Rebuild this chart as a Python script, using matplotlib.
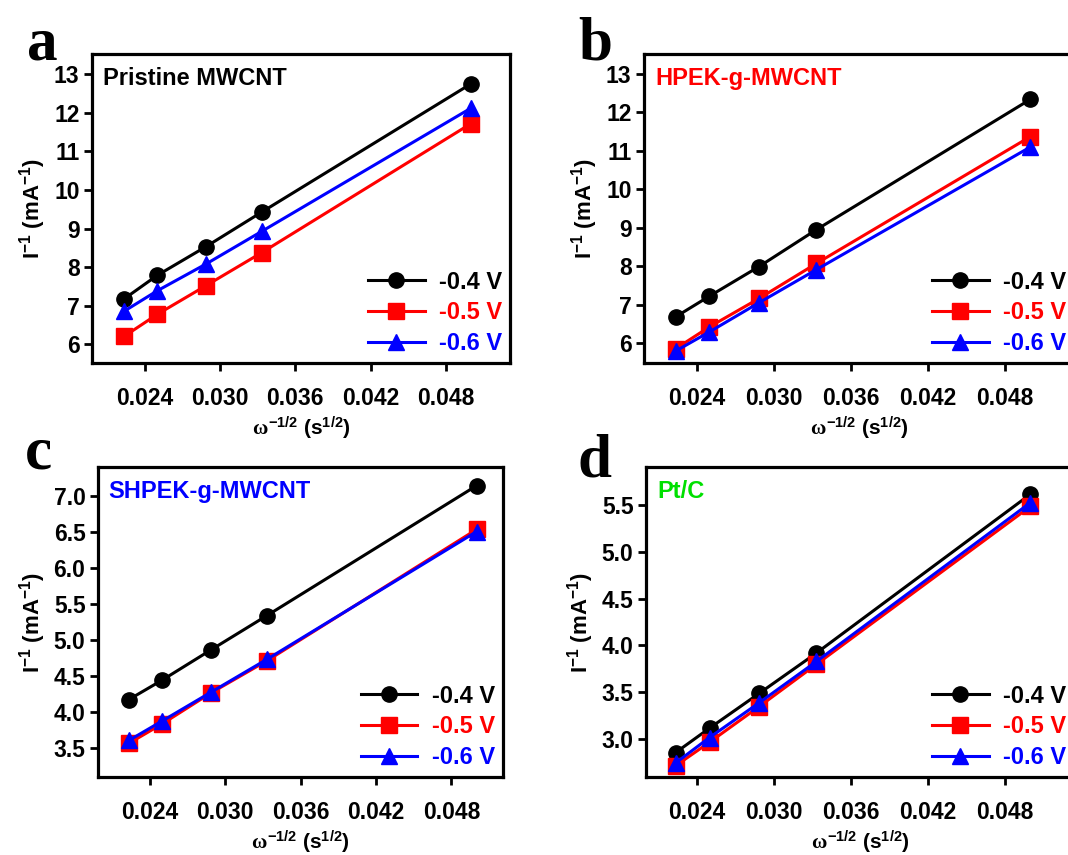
import numpy as np
import matplotlib
matplotlib.use("Agg")
import matplotlib.pyplot as plt

plt.rcParams["font.family"] = ["Liberation Sans", "DejaVu Sans"]
plt.rcParams["font.weight"] = "bold"
plt.rcParams["mathtext.fontset"] = "custom"
plt.rcParams["mathtext.it"] = "Liberation Serif"
plt.rcParams["mathtext.rm"] = "Liberation Sans:bold"
plt.rcParams["mathtext.bf"] = "Liberation Sans:bold"

# rotation rates (rpm) -> omega^-1/2
rpm = np.array([2000, 1600, 1200, 900, 400])
x_vals = 1.0 / np.sqrt(rpm)

volt_labels = ["-0.4 V", "-0.5 V", "-0.6 V"]

pristine_04 = [7.18, 7.79, 8.53, 9.43, 12.75]
pristine_05 = [6.21, 6.78, 7.52, 8.38, 11.72]
pristine_06 = [6.86, 7.39, 8.08, 8.93, 12.12]

hpek_04 = [6.68, 7.22, 7.99, 8.95, 12.34]
hpek_05 = [5.85, 6.42, 7.16, 8.07, 11.37]
hpek_06 = [5.79, 6.29, 7.05, 7.91, 11.10]

shpek_04 = [4.17, 4.44, 4.86, 5.34, 7.15]
shpek_05 = [3.56, 3.83, 4.26, 4.71, 6.54]
shpek_06 = [3.60, 3.87, 4.27, 4.73, 6.51]

ptc_04 = [2.86, 3.12, 3.49, 3.92, 5.61]
ptc_05 = [2.72, 2.97, 3.35, 3.80, 5.48]
ptc_06 = [2.75, 3.02, 3.39, 3.83, 5.52]

panels = [
    dict(letter="a", name="Pristine MWCNT", color="black",
         series=[pristine_04, pristine_05, pristine_06],
         rect=(92, 54, 418, 309), xlim=(0.0198, 0.0531), ylim=(5.52, 13.52),
         yticks=np.arange(6, 14, 1), yfmt="%d", letter_xy=(27, 60)),
    dict(letter="b", name="HPEK-g-MWCNT", color="#ff0000",
         series=[hpek_04, hpek_05, hpek_06],
         rect=(644, 54, 430, 309), xlim=(0.0199, 0.0534), ylim=(5.48, 13.52),
         yticks=np.arange(6, 14, 1), yfmt="%d", letter_xy=(578, 60)),
    dict(letter="c", name="SHPEK-g-MWCNT", color="#0000ff",
         series=[shpek_04, shpek_05, shpek_06],
         rect=(98, 467, 405, 310), xlim=(0.0199, 0.0521), ylim=(3.09, 7.41),
         yticks=np.arange(3.5, 7.01, 0.5), yfmt="%.1f", letter_xy=(25, 468)),
    dict(letter="d", name="Pt/C", color="#00e000",
         series=[ptc_04, ptc_05, ptc_06],
         rect=(646, 467, 428, 310), xlim=(0.02005, 0.0534), ylim=(2.60, 5.90),
         yticks=np.arange(3.0, 5.51, 0.5), yfmt="%.1f", letter_xy=(578, 476)),
]

line_colors = ["black", "#ff0000", "#0000ff"]
markers = ["o", "s", "^"]

W, H = 1068, 855
fig = plt.figure(figsize=(W / 100, H / 100), dpi=100)

for p in panels:
    l, t, w, h = p["rect"]
    ax = fig.add_axes([l / W, 1 - (t + h) / H, w / W, h / H])
    for ys, c, m, lab in zip(p["series"], line_colors, markers, volt_labels):
        ax.plot(x_vals, ys, color=c, marker=m, markersize=11, linewidth=2.2, label=lab)
    ax.set_xlim(*p["xlim"])
    ax.set_ylim(*p["ylim"])
    ax.set_xticks([0.024, 0.030, 0.036, 0.042, 0.048])
    ax.set_xticklabels(["0.024", "0.030", "0.036", "0.042", "0.048"])
    ax.set_yticks(p["yticks"])
    ax.set_yticklabels([p["yfmt"] % v for v in p["yticks"]])
    ax.tick_params(direction="out", length=6, width=2, labelsize=16.5, pad=3,
                   top=False, right=False)
    ax.tick_params(axis="x", pad=11)
    for s in ax.spines.values():
        s.set_linewidth(2.3)
    ax.set_xlabel(r"$\omega^{\mathbf{-1/2}}\ \mathbf{(s^{1/2})}$", fontsize=15, labelpad=4)
    ax.set_ylabel(r"$\mathbf{I^{-1}\ (mA^{-1})}$", fontsize=16, labelpad=4)
    ax.text(0.026, 0.92, p["name"], transform=ax.transAxes, color=p["color"],
            fontsize=17, fontweight="bold", va="center", ha="left")
    ax.legend(loc="lower right", bbox_to_anchor=(1.003, -0.004), frameon=False,
              fontsize=17, handlelength=2.4, handletextpad=0.6, labelspacing=0.32,
              borderaxespad=0.0, labelcolor="linecolor")
    lx, ly = p["letter_xy"]
    fig.text(lx / W, 1 - ly / H, p["letter"], family="Liberation Serif",
             fontweight="bold", fontsize=44, ha="left", va="baseline")

fig.savefig("out.png", dpi=100)
